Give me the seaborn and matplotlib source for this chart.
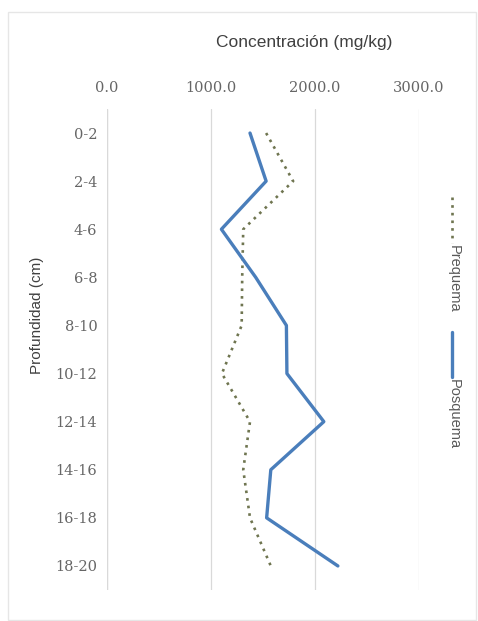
import matplotlib
matplotlib.use("Agg")
import matplotlib.pyplot as plt
from matplotlib.lines import Line2D
from matplotlib.patches import Rectangle
import pandas as pd
import seaborn as sns

# datos
profundidad = ['0-2', '2-4', '4-6', '6-8', '8-10', '10-12', '12-14', '14-16', '16-18', '18-20']
prequema = [1530, 1790, 1310, 1300, 1295, 1105, 1375, 1310, 1375, 1575]
posquema = [1375, 1530, 1100, 1430, 1725, 1730, 2085, 1575, 1535, 2220]

sns.set_theme(style="white")
plt.rcParams['font.family'] = ['Liberation Sans', 'DejaVu Sans']

df = pd.DataFrame({'Profundidad': profundidad, 'Prequema': prequema, 'Posquema': posquema})

col_pre = '#6f7550'
col_pos = '#4a7ebb'
estilo_pre = (0, (1, 1.9))

fig = plt.figure(figsize=(4.78, 6.21), dpi=100)
ax = fig.add_axes([107 / 478, 1 - 590 / 621, (419 - 107) / 478, (590 - 109) / 621])

sns.lineplot(data=df, x='Prequema', y='Profundidad', orient='y', sort=False, ax=ax,
             color=col_pre, linewidth=1.9, linestyle=estilo_pre)
sns.lineplot(data=df, x='Posquema', y='Profundidad', orient='y', sort=False, ax=ax,
             color=col_pos, linewidth=2.4)

ax.set_xlim(0, 3000)
ax.set_ylim(len(profundidad) - 0.5, -0.5)
ax.set_xticks([0, 1000, 2000, 3000])
ax.set_xticklabels(['0.0', '1000.0', '2000.0', '3000.0'], family='DejaVu Serif',
                   fontsize=10.5, color='#666666')
ax.set_yticks(range(len(profundidad)))
ax.set_yticklabels(profundidad, family='DejaVu Serif', fontsize=10.5, color='#666666')
ax.xaxis.tick_top()
ax.tick_params(axis='x', length=0, pad=10)
ax.tick_params(axis='y', length=0, pad=7)
ax.grid(axis='x', color='#d9d9d9', linewidth=0.9)
for s in ax.spines.values():
    s.set_visible(False)
ax.axvline(0, color='#d9d9d9', linewidth=0.9)
ax.set_xlabel('')
ax.set_ylabel('')

fig.text(37 / 478, 1 - 315 / 621, 'Profundidad (cm)', rotation=90, ha='center', va='center',
         fontsize=11, color='#404040')
fig.text(304 / 478, 1 - 42 / 621, 'Concentración (mg/kg)', ha='center', va='center',
         fontsize=12.5, color='#404040')

# leyenda vertical a la derecha
fig.add_artist(Line2D([452 / 478, 452 / 478], [1 - 197 / 621, 1 - 243 / 621],
                      color=col_pre, linewidth=1.9, linestyle=estilo_pre))
fig.text(454 / 478, 1 - 245 / 621, 'Prequema', rotation=-90, ha='center', va='top',
         fontsize=10.5, color='#595959')
fig.add_artist(Line2D([452 / 478, 452 / 478], [1 - 332 / 621, 1 - 377 / 621],
                      color=col_pos, linewidth=2.4))
fig.text(454 / 478, 1 - 379 / 621, 'Posquema', rotation=-90, ha='center', va='top',
         fontsize=10.5, color='#595959')

fig.add_artist(Rectangle((8 / 478, 1 / 621), 468 / 478, 608 / 621, fill=False,
                         edgecolor='#e6e6e6', linewidth=1))

fig.savefig('out.png', dpi=100, facecolor='white')
